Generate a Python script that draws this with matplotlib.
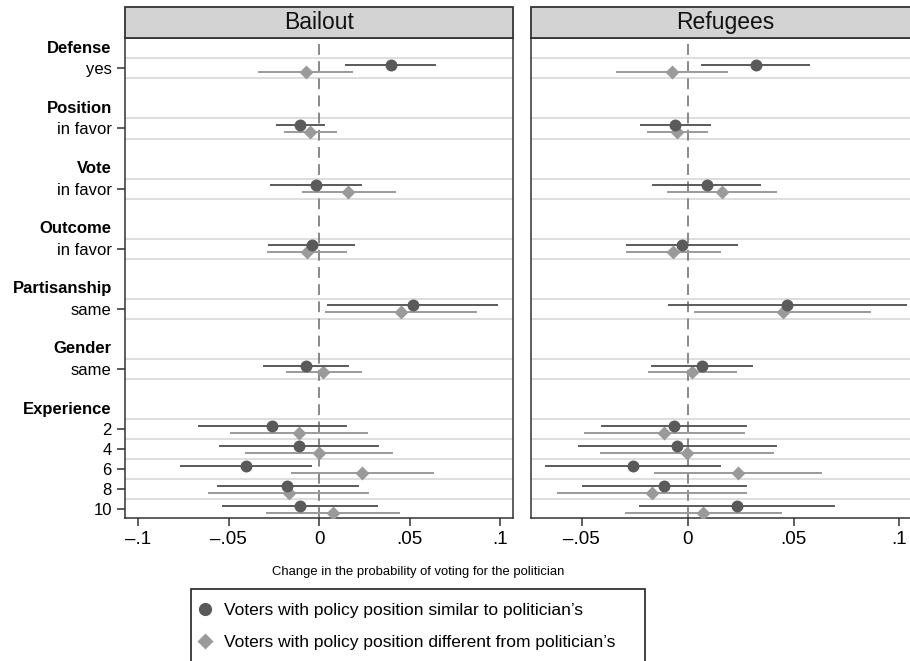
import numpy as np
import matplotlib.pyplot as plt
from matplotlib.lines import Line2D
from matplotlib.patches import Rectangle
import matplotlib.transforms as mtransforms

plt.rcParams['font.family'] = ['Liberation Sans', 'DejaVu Sans']

# row layout
groups = ['Defense', 'Position', 'Vote', 'Outcome', 'Partisanship', 'Gender', 'Experience']
levels = [['yes'], ['in favor'], ['in favor'], ['in favor'], ['same'], ['same'],
          ['2', '4', '6', '8', '10']]

panels = ['Bailout', 'Refugees']

# Bailout: similar (circle) / different (diamond) estimates and 95% CIs
bail_sim = [0.0397, -0.0106, -0.0019, -0.0041, 0.0516, -0.0075, -0.0262, -0.0113, -0.0404, -0.0176, -0.0106]
bail_sim_lo = [0.0144, -0.0240, -0.0274, -0.0285, 0.0045, -0.0312, -0.0673, -0.0557, -0.0769, -0.0568, -0.0539]
bail_sim_hi = [0.0648, 0.0030, 0.0236, 0.0199, 0.0990, 0.0166, 0.0152, 0.0329, -0.0038, 0.0218, 0.0327]
bail_dif = [-0.0073, -0.0049, 0.0161, -0.0069, 0.0450, 0.0023, -0.0110, -0.0001, 0.0238, -0.0169, 0.0076]
bail_dif_lo = [-0.0339, -0.0194, -0.0095, -0.0290, 0.0034, -0.0185, -0.0493, -0.0412, -0.0157, -0.0614, -0.0294]
bail_dif_hi = [0.0189, 0.0097, 0.0423, 0.0155, 0.0870, 0.0235, 0.0271, 0.0408, 0.0634, 0.0277, 0.0445]

# Refugees
ref_sim = [0.0321, -0.0058, 0.0090, -0.0027, 0.0470, 0.0066, -0.0065, -0.0049, -0.0258, -0.0112, 0.0233]
ref_sim_lo = [0.0063, -0.0225, -0.0167, -0.0293, -0.0093, -0.0173, -0.0411, -0.0517, -0.0674, -0.0499, -0.0229]
ref_sim_hi = [0.0578, 0.0110, 0.0345, 0.0239, 0.1034, 0.0308, 0.0282, 0.0420, 0.0157, 0.0279, 0.0694]
ref_dif = [-0.0074, -0.0049, 0.0162, -0.0068, 0.0449, 0.0020, -0.0112, -0.0002, 0.0236, -0.0169, 0.0074]
ref_dif_lo = [-0.0339, -0.0194, -0.0096, -0.0290, 0.0031, -0.0189, -0.0491, -0.0413, -0.0161, -0.0616, -0.0295]
ref_dif_hi = [0.0189, 0.0096, 0.0420, 0.0156, 0.0867, 0.0234, 0.0271, 0.0408, 0.0633, 0.0279, 0.0445]

xticks_left = [-0.1, -0.05, 0, 0.05, 0.1]
xticks_right = [-0.05, 0, 0.05, 0.1]
xticklabels_left = ['\u2013.1', '\u2013.05', '0', '.05', '.1']
xticklabels_right = ['\u2013.05', '0', '.05', '.1']

legend_labels = ['Voters with policy position similar to politician\u2019s',
                 'Voters with policy position different from politician\u2019s']

c_sim = '#5a5a5a'
c_dif = '#9a9a9a'

# compute row positions
head_rows = []
val_rows = []
val_labels = []
r = 0
for g, lv in zip(groups, levels):
    head_rows.append(r)
    for k, l in enumerate(lv):
        val_rows.append(r + 1 + k)
        val_labels.append(l)
    r += len(lv) + 2
val_rows = np.array(val_rows)

W, H = 910, 661
fig = plt.figure(figsize=(W / 100, H / 100), dpi=100)

top, bot = 38.3, 518.3
axL = fig.add_axes([125 / W, 1 - bot / H, 388.3 / W, (bot - top) / H])
axR = fig.add_axes([531 / W, 1 - bot / H, 388.3 / W, (bot - top) / H])

data = [(bail_sim, bail_sim_lo, bail_sim_hi, bail_dif, bail_dif_lo, bail_dif_hi),
        (ref_sim, ref_sim_lo, ref_sim_hi, ref_dif, ref_dif_lo, ref_dif_hi)]

off = 0.17
for ax, name, d in zip([axL, axR], panels, data):
    s, slo, shi, dd, dlo, dhi = [np.array(v) for v in d]
    for y in val_rows:
        ax.axhline(y - 0.5, color='#dedede', lw=1.4, zorder=0)
        ax.axhline(y + 0.5, color='#dedede', lw=1.4, zorder=0)
    ax.axvline(0, color='#7f7f7f', lw=1.3, ls=(0, (6, 3.5)), zorder=1)
    ax.hlines(val_rows + off, dlo, dhi, color=c_dif, lw=1.4, zorder=2)
    ax.plot(dd, val_rows + off, 'D', color=c_dif, ms=7.4, mec='none', zorder=3)
    ax.hlines(val_rows - off, slo, shi, color=c_sim, lw=1.4, zorder=4)
    ax.plot(s, val_rows - off, 'o', color=c_sim, ms=8.6, mec='none', zorder=5)
    ax.set_ylim(23.45, -0.5)
    for sp in ax.spines.values():
        sp.set_color('#333333')
        sp.set_linewidth(1.1)
    ax.tick_params(axis='x', length=6, width=1.1, color='#333333', labelsize=13.5, pad=3)
    # header strip
    hh = 31 / (bot - top)
    ax.add_patch(Rectangle((0, 1), 1, hh, transform=ax.transAxes, facecolor='#d3d3d3',
                           edgecolor='#333333', lw=1.3, clip_on=False, zorder=6))
    ax.text(0.5, 1 + hh / 2, name, transform=ax.transAxes, ha='center', va='center',
            fontsize=16.5, color='#111111', zorder=7)

axL.set_xlim(-0.1074, 0.1073)
axL.set_xticks(xticks_left)
axL.set_xticklabels(xticklabels_left)
axR.set_xlim(-0.0740, 0.1094)
axR.set_xticks(xticks_right)
axR.set_xticklabels(xticklabels_right)

axL.set_yticks(val_rows)
axL.set_yticklabels(val_labels)
axL.tick_params(axis='y', length=6, width=1.1, color='#333333', labelsize=12, pad=3.5)
axR.set_yticks([])

tr = mtransforms.offset_copy(axL.get_yaxis_transform(), fig=fig, x=-9.5, y=0, units='points')
for g, hr in zip(groups, head_rows):
    axL.text(0, hr, g, transform=tr, ha='right', va='center', fontsize=12, fontweight='bold')

fig.text(418 / W, 1 - 571.7 / H, 'Change in the probability of voting for the politician',
         ha='center', va='center', fontsize=9.4)

# legend box
fig.patches.append(Rectangle((191 / W, 1 - 670 / H), (645 - 191) / W, (670 - 589.3) / H,
                             transform=fig.transFigure, facecolor='white', edgecolor='#222222',
                             lw=1.2, zorder=0))
handles = [Line2D([], [], marker='o', color=c_sim, ls='none', ms=9.5, mec='none'),
           Line2D([], [], marker='D', color=c_dif, ls='none', ms=8, mec='none')]
leg = fig.legend(handles, legend_labels, loc='center left', frameon=False, fontsize=12.5,
                 bbox_to_anchor=(196 / W, 1 - 626.5 / H), borderaxespad=0, borderpad=0,
                 handlelength=1, handletextpad=0.6, labelspacing=0.95)

fig.savefig('out.png', dpi=100)
